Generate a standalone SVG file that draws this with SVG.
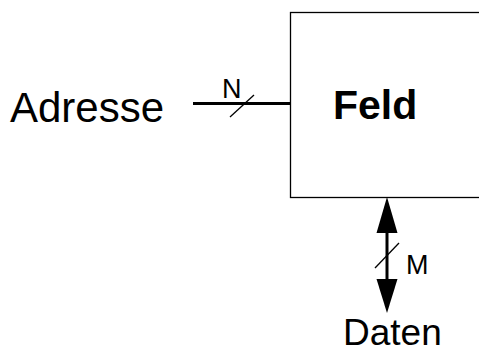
<svg xmlns="http://www.w3.org/2000/svg" width="479" height="353" viewBox="0 0 479 353">
<style>
text{font-family:"Liberation Sans",Arial,sans-serif;fill:#000}
.bus{stroke:#000;stroke-width:3;fill:none}
.thin{stroke:#000;stroke-width:1.3;fill:none}
</style>
<rect width="479" height="353" fill="#fff"/>
<g id="feld">
<rect x="290.5" y="12.5" width="200" height="185" fill="#fff" stroke="#000" stroke-width="1.3"/>
<text x="333" y="119" font-size="41" font-weight="bold">Feld</text>
</g>
<g id="adresse">
<text x="10" y="122" font-size="42">Adresse</text>
</g>
<g id="daten">
<text x="343" y="345" font-size="37">Daten</text>
</g>
<g id="connectors">
<line class="bus" x1="193" y1="103.5" x2="290" y2="103.5"/>
<line class="thin" x1="230" y1="117" x2="254" y2="95"/>
<text x="222" y="98" font-size="27">N</text>
<line class="bus" x1="387" y1="230" x2="387" y2="282"/>
<polygon points="387,197 376.5,233 397.5,233" fill="#000"/>
<polygon points="387,313 376.5,279 397.5,279" fill="#000"/>
<line class="thin" x1="375" y1="268" x2="399" y2="243"/>
<text x="406" y="274" font-size="27">M</text>
</g>
</svg>
